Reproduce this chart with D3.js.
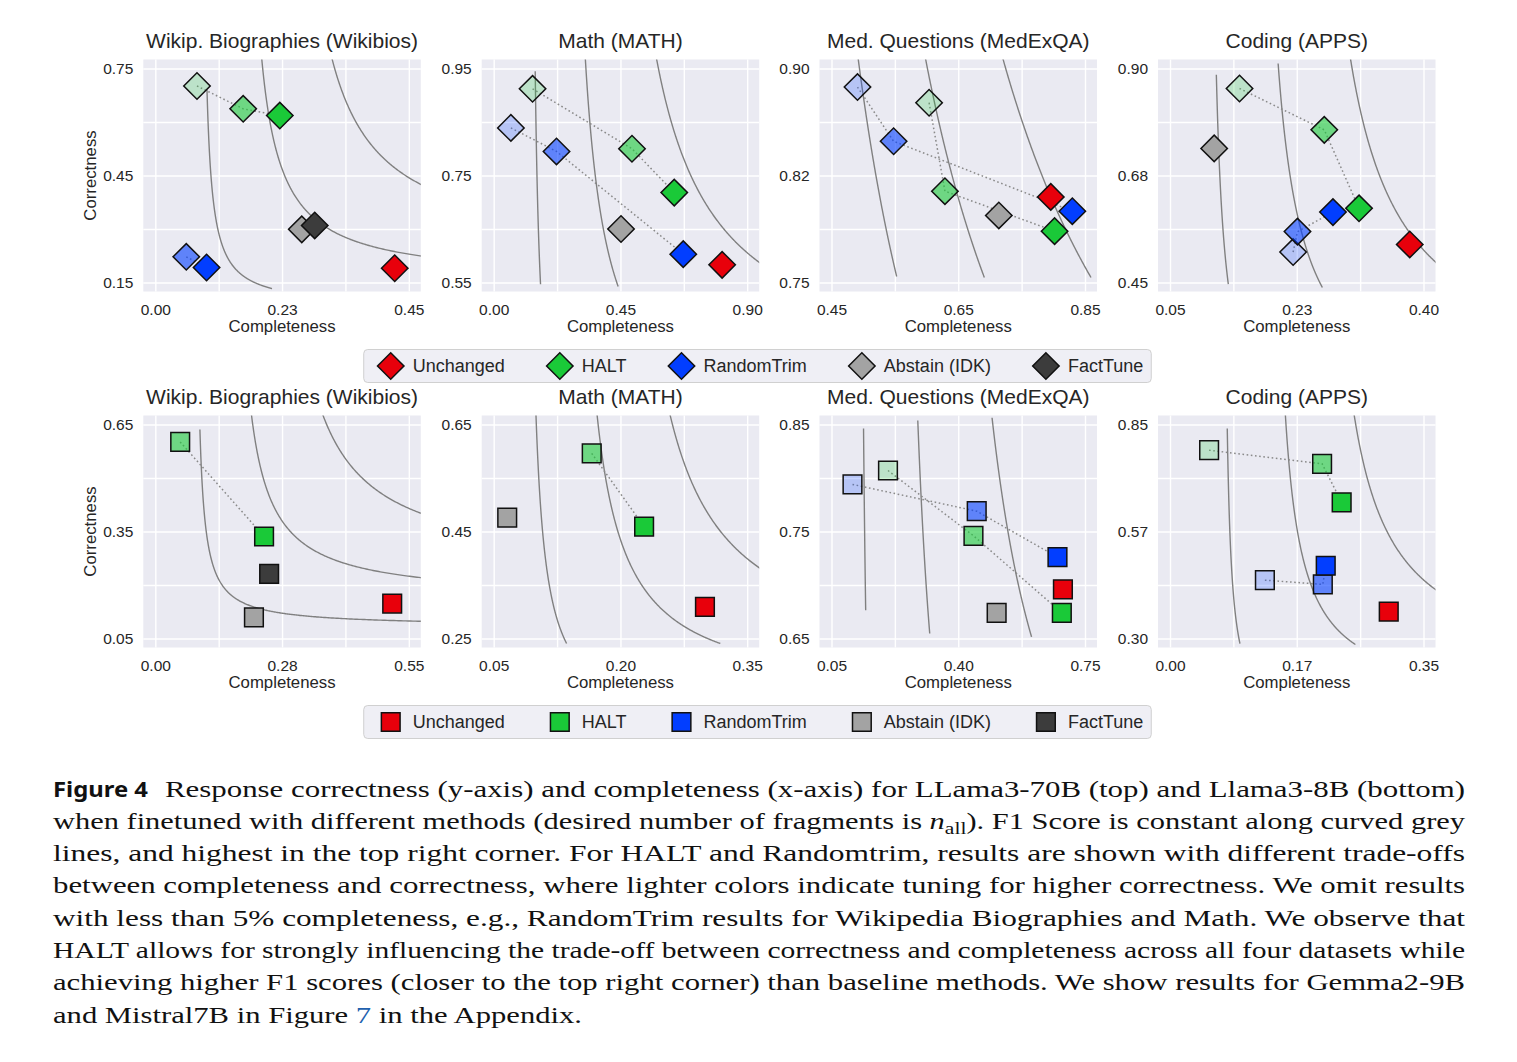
<!DOCTYPE html>
<html><head><meta charset="utf-8">
<script src="https://cdn.jsdelivr.net/npm/d3@7"></script>
<style>body{margin:0;background:#fff}svg{display:block}</style>
</head><body>
<svg id="fig" width="1517" height="1062"></svg>
<script>
// ---------------- DATA ----------------
const methods = ["Unchanged", "HALT", "RandomTrim", "Abstain (IDK)", "FactTune"];
const methodColors = ["#E8000B", "#1AC938", "#023EFF", "#A3A3A3", "#3C3C3C"];
const shades = ["light", "mid", "full"];
const shadeAlpha = [0.22, 0.6, 1];
const titles = ["Wikip. Biographies (Wikibios)", "Math (MATH)", "Med. Questions (MedExQA)", "Coding (APPS)"];

// tick values and labels (LLama3-70B, top row)
const xTicks70 = [[0, 0.225, 0.45], [0, 0.45, 0.9], [0.45, 0.65, 0.85], [0.05, 0.225, 0.40]];
const xLabels70 = [["0.00", "0.23", "0.45"], ["0.00", "0.45", "0.90"], ["0.45", "0.65", "0.85"], ["0.05", "0.23", "0.40"]];
const yTicks70 = [[0.15, 0.45, 0.75], [0.55, 0.75, 0.95], [0.75, 0.825, 0.90], [0.45, 0.675, 0.90]];
const yLabels70 = [["0.15", "0.45", "0.75"], ["0.55", "0.75", "0.95"], ["0.75", "0.82", "0.90"], ["0.45", "0.68", "0.90"]];
// tick values and labels (Llama3-8B, bottom row)
const xTicks8 = [[0, 0.275, 0.55], [0.05, 0.20, 0.35], [0.05, 0.40, 0.75], [0, 0.175, 0.35]];
const xLabels8 = [["0.00", "0.28", "0.55"], ["0.05", "0.20", "0.35"], ["0.05", "0.40", "0.75"], ["0.00", "0.17", "0.35"]];
const yTicks8 = [[0.05, 0.35, 0.65], [0.25, 0.45, 0.65], [0.65, 0.75, 0.85], [0.30, 0.575, 0.85]];
const yLabels8 = [["0.05", "0.35", "0.65"], ["0.25", "0.45", "0.65"], ["0.65", "0.75", "0.85"], ["0.30", "0.57", "0.85"]];

// points: [method, completeness, correctness, shade]
const wiki70 = [
  ["Unchanged", 0.425, 0.190, "full"],
  ["HALT", 0.074, 0.701, "light"], ["HALT", 0.156, 0.637, "mid"], ["HALT", 0.221, 0.618, "full"],
  ["RandomTrim", 0.055, 0.222, "mid"], ["RandomTrim", 0.091, 0.192, "full"],
  ["Abstain (IDK)", 0.260, 0.299, "full"],
  ["FactTune", 0.283, 0.310, "full"]];
const math70 = [
  ["Unchanged", 0.811, 0.583, "full"],
  ["HALT", 0.138, 0.912, "light"], ["HALT", 0.491, 0.800, "mid"], ["HALT", 0.641, 0.718, "full"],
  ["RandomTrim", 0.061, 0.839, "light"], ["RandomTrim", 0.223, 0.795, "mid"], ["RandomTrim", 0.673, 0.603, "full"],
  ["Abstain (IDK)", 0.452, 0.650, "full"]];
const med70 = [
  ["Unchanged", 0.796, 0.810, "full"],
  ["HALT", 0.604, 0.876, "light"], ["HALT", 0.629, 0.814, "mid"], ["HALT", 0.802, 0.786, "full"],
  ["RandomTrim", 0.491, 0.887, "light"], ["RandomTrim", 0.548, 0.849, "mid"], ["RandomTrim", 0.830, 0.800, "full"],
  ["Abstain (IDK)", 0.714, 0.797, "full"]];
const apps70 = [
  ["Unchanged", 0.381, 0.530, "full"],
  ["HALT", 0.146, 0.858, "light"], ["HALT", 0.263, 0.771, "mid"], ["HALT", 0.311, 0.606, "full"],
  ["RandomTrim", 0.220, 0.514, "light"], ["RandomTrim", 0.226, 0.557, "mid"], ["RandomTrim", 0.275, 0.598, "full"],
  ["Abstain (IDK)", 0.111, 0.732, "full"]];
const wiki8 = [
  ["Unchanged", 0.514, 0.148, "full"],
  ["HALT", 0.054, 0.601, "mid"], ["HALT", 0.236, 0.336, "full"],
  ["Abstain (IDK)", 0.214, 0.109, "full"],
  ["FactTune", 0.247, 0.231, "full"]];
const math8 = [
  ["Unchanged", 0.300, 0.309, "full"],
  ["HALT", 0.166, 0.596, "mid"], ["HALT", 0.228, 0.459, "full"],
  ["Abstain (IDK)", 0.066, 0.476, "full"]];
const med8 = [
  ["Unchanged", 0.689, 0.696, "full"],
  ["HALT", 0.206, 0.807, "light"], ["HALT", 0.442, 0.746, "mid"], ["HALT", 0.686, 0.674, "full"],
  ["RandomTrim", 0.108, 0.794, "light"], ["RandomTrim", 0.451, 0.769, "mid"], ["RandomTrim", 0.674, 0.726, "full"],
  ["Abstain (IDK)", 0.506, 0.674, "full"]];
const apps8 = [
  ["Unchanged", 0.302, 0.369, "full"],
  ["HALT", 0.054, 0.784, "light"], ["HALT", 0.210, 0.749, "mid"], ["HALT", 0.237, 0.650, "full"],
  ["RandomTrim", 0.131, 0.450, "light"], ["RandomTrim", 0.211, 0.439, "mid"], ["RandomTrim", 0.215, 0.487, "full"]];

// constant-F1 curves: [F1, correctness at upper end, correctness at lower end]
const f1Wiki70 = [[0.162, 0.69, 0.133], [0.304, 1.2, 0.18], [0.447, 1.2, 0.30]];
const f1Math70 = [[0.255, 0.945, 0.5468], [0.487, 1.2, 0.5425], [0.724, 1.2, 0.50]];
const f1Med70 = [[0.638, 1.2, 0.7542], [0.721, 1.2, 0.7535], [0.803, 1.2, 0.7535]];
const f1Apps70 = [[0.202, 0.887, 0.4464], [0.327, 0.9105, 0.4395], [0.4516, 1.2, 0.40]];
const f1Wiki8 = [[0.168, 0.636, 0.09], [0.319, 1.2, 0.18], [0.473, 1.2, 0.30]];
const f1Math8 = [[0.174, 1.2, 0.2406], [0.274, 1.2, 0.2406], [0.373, 1.2, 0.25]];
const f1Med8 = [[0.238, 0.8463, 0.6765], [0.431, 0.8537, 0.6547], [0.626, 0.8563, 0.6515]];
const f1Apps8 = [[0.1445, 0.8397, 0.2871], [0.2695, 1.2, 0.2845], [0.394, 1.2, 0.30]];

const captionLines = [
  "Response correctness (y-axis) and completeness (x-axis) for LLama3-70B (top) and Llama3-8B (bottom)",
  ["when finetuned with different methods (desired number of fragments is ", "n", "all", "). F1 Score is constant along curved grey"],
  "lines, and highest in the top right corner. For HALT and Randomtrim, results are shown with different trade-offs",
  "between completeness and correctness, where lighter colors indicate tuning for higher correctness. We omit results",
  "with less than 5% completeness, e.g., RandomTrim results for Wikipedia Biographies and Math. We observe that",
  "HALT allows for strongly influencing the trade-off between correctness and completeness across all four datasets while",
  "achieving higher F1 scores (closer to the top right corner) than baseline methods. We show results for Gemma2-9B",
  ["and Mistral7B in Figure ", "7", " in the Appendix."]
];

// ---------------- LAYOUT ----------------
const FONT = "'Liberation Sans', Arial, Helvetica, sans-serif";
const SERIF = "'Liberation Serif', Tinos, 'Times New Roman', 'Nimbus Roman', 'Nimbus Roman No9 L', FreeSerif, Times, 'DejaVu Serif Condensed', serif";
const INK = "#262626";
const BG = "#EAEAF2";
const colLeft = [143.3, 481.7, 819.5, 1158.0];
const rowTop = [59.5, 415.5];
const plotW = 277.5, plotH = 232;
const insetX = 12, insetY = 9;

const svg = d3.select("#fig");
const defs = svg.append("defs");

const panels = [
  [0, 0, wiki70, f1Wiki70, xTicks70[0], xLabels70[0], yTicks70[0], yLabels70[0]],
  [0, 1, math70, f1Math70, xTicks70[1], xLabels70[1], yTicks70[1], yLabels70[1]],
  [0, 2, med70, f1Med70, xTicks70[2], xLabels70[2], yTicks70[2], yLabels70[2]],
  [0, 3, apps70, f1Apps70, xTicks70[3], xLabels70[3], yTicks70[3], yLabels70[3]],
  [1, 0, wiki8, f1Wiki8, xTicks8[0], xLabels8[0], yTicks8[0], yLabels8[0]],
  [1, 1, math8, f1Math8, xTicks8[1], xLabels8[1], yTicks8[1], yLabels8[1]],
  [1, 2, med8, f1Med8, xTicks8[2], xLabels8[2], yTicks8[2], yLabels8[2]],
  [1, 3, apps8, f1Apps8, xTicks8[3], xLabels8[3], yTicks8[3], yLabels8[3]]
];

const markerSize = 350;
const sym = d3.symbol().type(d3.symbolSquare).size(markerSize);
const grid5 = t => d3.range(5).map(i => t[0] + (t[2] - t[0]) * i / 4);

panels.forEach(([row, col, pts, curves, xt, xl, yt, yl], pi) => {
  const L = colLeft[col], T = rowTop[row];
  const x = d3.scaleLinear().domain([xt[0], xt[2]]).range([L + insetX, L + plotW - insetX]);
  const y = d3.scaleLinear().domain([yt[0], yt[2]]).range([T + plotH - insetY, T + insetY]);
  const g = svg.append("g");
  g.append("rect").attr("x", L).attr("y", T).attr("width", plotW).attr("height", plotH).attr("fill", BG);

  // grid
  const gx = g.append("g").attr("transform", `translate(0,${T + plotH})`)
    .call(d3.axisBottom(x).tickValues(grid5(xt)).tickSize(-plotH).tickFormat(""));
  const gy = g.append("g").attr("transform", `translate(${L},0)`)
    .call(d3.axisLeft(y).tickValues(grid5(yt)).tickSize(-plotW).tickFormat(""));
  [gx, gy].forEach(a => { a.select(".domain").remove(); a.selectAll("line").attr("stroke", "#fff").attr("stroke-width", 1.4); });

  // clip
  const cid = "clip" + pi;
  defs.append("clipPath").attr("id", cid).append("rect")
    .attr("x", L).attr("y", T).attr("width", plotW).attr("height", plotH);

  // F1 curves
  const line = d3.line().x(d => x(d[0])).y(d => y(d[1]));
  curves.forEach(([F, yTop, yBot]) => {
    const k = F * F / 4, c = F / 2;
    const s0 = k / (yTop - c), s1 = k / (yBot - c);
    const n = 400;
    const data = d3.range(n).map(i => {
      const s = s0 * Math.pow(s1 / s0, i / (n - 1));
      return [c + s, c + k / s];
    });
    g.append("path").attr("clip-path", `url(#${cid})`).attr("d", line(data))
      .attr("fill", "none").attr("stroke", "#808080").attr("stroke-width", 1.4);
  });

  // dotted trade-off lines
  methods.forEach(m => {
    const grp = pts.filter(p => p[0] === m).sort((a, b) => shades.indexOf(a[3]) - shades.indexOf(b[3]));
    if (grp.length > 1) {
      g.append("path").attr("d", d3.line().x(d => x(d[1])).y(d => y(d[2]))(grp))
        .attr("fill", "none").attr("stroke", "#8a8a8a").attr("stroke-width", 1.5)
        .attr("stroke-dasharray", "1.6,2.6");
    }
  });

  // markers
  const ordered = pts.slice().sort((a, b) =>
    (methods.indexOf(a[0]) - methods.indexOf(b[0])) || (shades.indexOf(a[3]) - shades.indexOf(b[3])));
  g.selectAll("path.mk").data(ordered).enter().append("path").attr("class", "mk")
    .attr("d", sym)
    .attr("transform", d => `translate(${x(d[1])},${y(d[2])})` + (row === 0 ? " rotate(45)" : ""))
    .attr("fill", d => methodColors[methods.indexOf(d[0])])
    .attr("fill-opacity", d => shadeAlpha[shades.indexOf(d[3])])
    .attr("stroke", "#111").attr("stroke-width", 1.5);

  // tick labels
  const ax = g.append("g").attr("transform", `translate(0,${T + plotH})`)
    .call(d3.axisBottom(x).tickValues(xt).tickFormat((d, i) => xl[i]).tickSize(0).tickPadding(12.5));
  const ay = g.append("g").attr("transform", `translate(${L},0)`)
    .call(d3.axisLeft(y).tickValues(yt).tickFormat((d, i) => yl[i]).tickSize(0).tickPadding(10));
  [ax, ay].forEach(a => {
    a.select(".domain").remove();
    a.selectAll("text").attr("font-size", 15.5).attr("font-family", FONT).attr("fill", INK);
  });

  // title and labels
  g.append("text").attr("x", L + plotW / 2).attr("y", T - 11.5).attr("text-anchor", "middle")
    .attr("font-family", FONT).attr("font-size", 21).attr("fill", INK).text(titles[col]);
  g.append("text").attr("x", L + plotW / 2).attr("y", T + plotH + 40).attr("text-anchor", "middle")
    .attr("font-family", FONT).attr("font-size", 16.75).attr("fill", INK).text("Completeness");
  if (col === 0) {
    g.append("text").attr("transform", `translate(96,${T + plotH / 2}) rotate(-90)`).attr("text-anchor", "middle")
      .attr("font-family", FONT).attr("font-size", 16.75).attr("fill", INK).text("Correctness");
  }
});

// ---------------- LEGENDS ----------------
function legend(cy, diamond) {
  const g = svg.append("g");
  const box = g.append("rect");
  const items = g.append("g");
  let cx = 0;
  methods.forEach((m, i) => {
    items.append("path").attr("d", sym)
      .attr("transform", `translate(${cx},${cy})` + (diamond ? " rotate(45)" : ""))
      .attr("fill", methodColors[i]).attr("stroke", "#111").attr("stroke-width", 1.5);
    const t = items.append("text").attr("x", cx + 22).attr("y", cy).attr("dy", "0.36em")
      .attr("font-family", FONT).attr("font-size", 18).attr("fill", INK).text(m);
    const w = t.node().getComputedTextLength();
    if (i < methods.length - 1) cx = cx + 22 + w + 55;
    else cx = cx + 22 + w;
  });
  const total = cx + 27 + 8;
  const left = 757.5 - total / 2;
  items.attr("transform", `translate(${left + 27},0)`);
  box.attr("x", left).attr("y", cy - 16.5).attr("width", total).attr("height", 33)
    .attr("rx", 4).attr("fill", "#EFEFF5").attr("stroke", "#D0D0D0").attr("stroke-width", 1);
}
legend(366, true);
legend(722, false);

// ---------------- CAPTION ----------------
const capX = 53, capR = 1465, capY0 = 796.5, capDY = 32.3, capFS = 24;
const cap = svg.append("g").attr("font-family", SERIF).attr("font-size", capFS).attr("fill", "#111");
cap.append("text").attr("x", capX).attr("y", capY0).attr("font-family", "'Noto Sans', 'Open Sans', sans-serif")
  .attr("font-weight", "bold").attr("font-size", 21).attr("textLength", 95).attr("lengthAdjust", "spacingAndGlyphs")
  .text("Figure 4");
captionLines.forEach((ln, i) => {
  const yy = capY0 + i * capDY;
  const x0 = i === 0 ? 165 : capX;
  const t = cap.append("text").attr("x", x0).attr("y", yy).attr("lengthAdjust", "spacingAndGlyphs");
  if (i === 1) {
    t.append("tspan").text(ln[0]);
    t.append("tspan").attr("font-style", "italic").text(ln[1]);
    t.append("tspan").attr("font-size", 17).attr("dy", 5).text(ln[2]);
    t.append("tspan").attr("dy", -5).text(ln[3]);
  } else if (i === captionLines.length - 1) {
    t.append("tspan").text(ln[0]);
    t.append("tspan").attr("fill", "#2160AE").text(ln[1]);
    t.append("tspan").text(ln[2]);
  } else {
    t.text(ln);
  }
  const target = i === captionLines.length - 1 ? 582 - capX : capR - x0;
  t.attr("textLength", target);
});
</script>
</body></html>
